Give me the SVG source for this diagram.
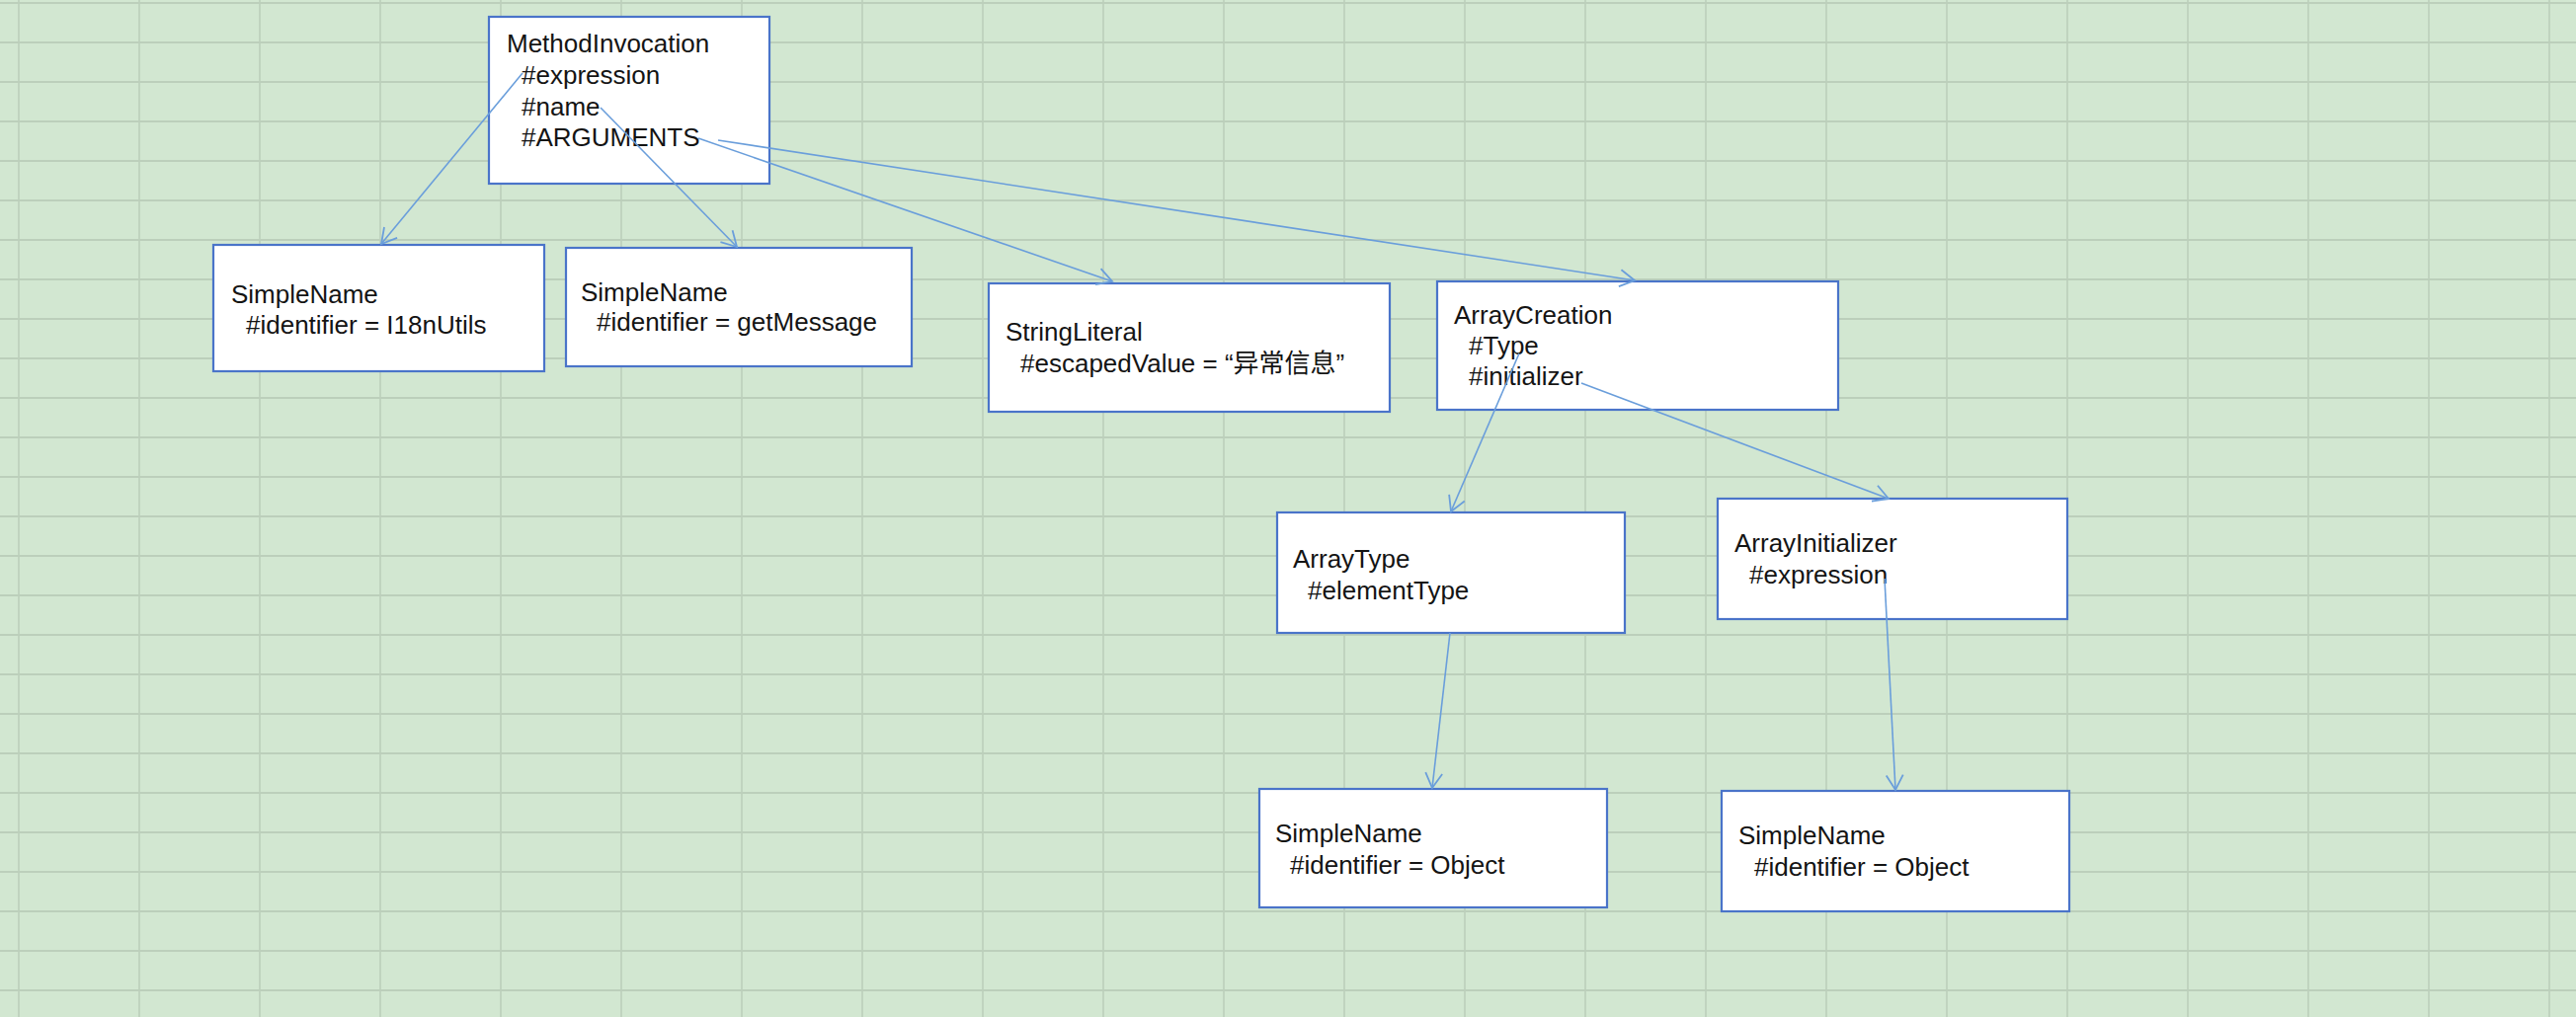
<svg xmlns="http://www.w3.org/2000/svg" width="2608" height="1030" viewBox="0 0 2608 1030">
<style>
.box{fill:#ffffff;stroke:#4a74c9;stroke-width:2.2}
.t{font-family:"Liberation Sans",Arial,sans-serif;font-size:26px;fill:#141414}
.c{fill:none;stroke:#6a9edb;stroke-width:1.6}
</style>
<defs>
<pattern id="grid" patternUnits="userSpaceOnUse" x="-42" y="-17" width="122" height="40">
<rect width="122" height="40" fill="#d2e7d1"/>
<line x1="61" y1="0" x2="61" y2="40" stroke="#bccfbb" stroke-width="1.6"/>
<line x1="0" y1="20" x2="122" y2="20" stroke="#bccfbb" stroke-width="2"/>
</pattern>
<marker id="arr" viewBox="-17 -11 19 22" refX="0" refY="0" markerWidth="19" markerHeight="22" markerUnits="userSpaceOnUse" orient="auto">
<path d="M-15,-8.5 L0,0 L-15,8.5" fill="none" stroke="#6a9edb" stroke-width="1.8"/>
</marker>
</defs>
<rect x="0" y="0" width="2608" height="1030" fill="url(#grid)"/>
<g id="methodInvocation">
<rect class="box" x="495" y="17" width="284" height="169"/>
<text class="t" x="513" y="53">MethodInvocation</text>
<text class="t" x="528" y="85">#expression</text>
<text class="t" x="528" y="117">#name</text>
<text class="t" x="528" y="148">#ARGUMENTS</text>
</g>
<g id="simpleName1">
<rect class="box" x="216" y="248" width="335" height="128"/>
<text class="t" x="234" y="307">SimpleName</text>
<text class="t" x="249" y="338">#identifier = I18nUtils</text>
</g>
<g id="simpleName2">
<rect class="box" x="573" y="251" width="350" height="120"/>
<text class="t" x="588" y="305">SimpleName</text>
<text class="t" x="604" y="335">#identifier = getMessage</text>
</g>
<g id="stringLiteral">
<rect class="box" x="1001" y="287" width="406" height="130"/>
<text class="t" x="1018" y="345">StringLiteral</text>
<text class="t" x="1033" y="377" style="font-family:'Liberation Sans','Noto Sans CJK SC',sans-serif">#escapedValue = “异常信息”</text>
</g>
<g id="arrayCreation">
<rect class="box" x="1455" y="285" width="406" height="130"/>
<text class="t" x="1472" y="328">ArrayCreation</text>
<text class="t" x="1487" y="359">#Type</text>
<text class="t" x="1487" y="390">#initializer</text>
</g>
<g id="arrayType">
<rect class="box" x="1293" y="519" width="352" height="122"/>
<text class="t" x="1309" y="575">ArrayType</text>
<text class="t" x="1324" y="607">#elementType</text>
</g>
<g id="arrayInitializer">
<rect class="box" x="1739" y="505" width="354" height="122"/>
<text class="t" x="1756" y="559">ArrayInitializer</text>
<text class="t" x="1771" y="591">#expression</text>
</g>
<g id="simpleName3">
<rect class="box" x="1275" y="799" width="352" height="120"/>
<text class="t" x="1291" y="853">SimpleName</text>
<text class="t" x="1306" y="885">#identifier = Object</text>
</g>
<g id="simpleName4">
<rect class="box" x="1743" y="801" width="352" height="122"/>
<text class="t" x="1760" y="855">SimpleName</text>
<text class="t" x="1776" y="887">#identifier = Object</text>
</g>
<g id="connectors">
<line class="c" x1="529" y1="74" x2="386" y2="247" marker-end="url(#arr)"/>
<line class="c" x1="608" y1="109" x2="746" y2="250" marker-end="url(#arr)"/>
<line class="c" x1="707" y1="140" x2="1126" y2="285" marker-end="url(#arr)"/>
<line class="c" x1="727" y1="142" x2="1655" y2="284" marker-end="url(#arr)"/>
<line class="c" x1="1538" y1="358" x2="1469" y2="518" marker-end="url(#arr)"/>
<line class="c" x1="1601" y1="388" x2="1912" y2="505" marker-end="url(#arr)"/>
<line class="c" x1="1468" y1="641" x2="1450" y2="798" marker-end="url(#arr)"/>
<line class="c" x1="1908" y1="586" x2="1919" y2="800" marker-end="url(#arr)"/>
</g>
</svg>
